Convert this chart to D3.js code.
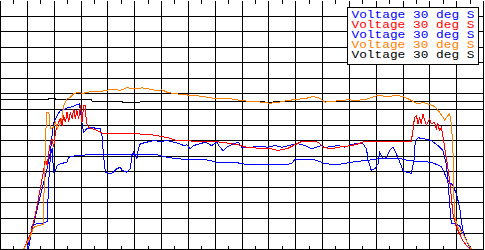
<!DOCTYPE html>
<html>
<head>
<meta charset="utf-8">
<script src="https://cdn.jsdelivr.net/npm/d3@7"></script>
<style>
html, body { margin: 0; padding: 0; background: #ffffff; }
svg { display: block; }
</style>
</head>
<body>
<svg id="chart" width="485" height="250"></svg>
<script>
// Traces as [time, voltage] pairs.
var blue_a = [[9.9,0.5],[12.4,16.7],[13.7,26.4],[14.9,34.7],[16.1,43.3],[17.4,52.1],[18.0,57.2],[18.6,62.5],[19.2,73.3],[19.8,81.6],[21.1,86.1],[22.3,89.3],[23.5,90.0],[24.8,90.9],[26.0,91.3],[27.3,92.2],[28.5,93.0],[29.4,93.6],[29.8,89.3],[30.4,80.8],[31.0,75.4],[32.2,77.6],[34.7,78.6],[35.3,77.6],[37.2,77.6],[37.8,73.3],[38.4,60.4],[39.1,49.7],[40.9,48.6],[42.1,49.7],[43.4,51.9],[44.6,52.9],[45.3,50.8],[47.1,49.7],[48.4,51.9],[49.0,60.4],[49.6,62.5],[50.8,58.3],[51.4,64.7],[52.1,67.9],[54.6,69.0],[57.0,70.0],[59.5,69.4],[62.0,70.0],[64.5,69.0],[66.9,67.9],[68.2,66.8],[69.4,67.3],[70.7,64.7],[71.9,66.8],[74.4,67.9],[76.2,69.0],[78.7,66.8],[80.6,69.0],[81.8,65.7],[83.0,63.6],[84.3,65.7],[85.5,66.8],[86.8,67.9],[88.6,69.0],[89.9,65.7],[92.3,65.4],[96.1,66.4],[99.8,65.7],[102.3,66.8],[104.8,65.7],[108.5,67.3],[110.9,67.9],[113.4,66.8],[115.9,64.7],[117.8,65.7],[119.6,66.8],[120.9,65.6],[123.4,66.2],[125.8,66.8],[128.3,65.7],[130.8,67.5],[133.3,68.3],[135.1,67.9],[136.4,64.7],[137.0,57.2],[138.2,50.8],[139.5,51.9],[140.7,55.1],[141.3,62.5],[142.6,58.3],[143.8,59.3],[145.0,63.6],[146.3,65.7],[147.5,61.5],[148.8,56.1],[150.0,50.8],[151.3,49.7],[153.1,49.0],[154.1,57.2],[154.6,70.0],[155.6,71.8],[158.1,71.1],[160.6,70.0],[163.0,66.8],[164.9,63.6],[166.1,55.1],[166.7,44.3],[167.4,29.4],[168.0,16.5],[169.2,16.7],[171.1,15.4],[172.3,10.1],[174.2,3.7],[175.4,0.5]];

var red_trace = [[8.7,0.5],[11.2,10.3],[13.0,22.5],[14.9,39.8],[16.1,50.8],[16.7,58.3],[17.4,54.0],[18.0,62.5],[18.6,69.0],[19.2,71.1],[19.8,65.7],[20.5,75.4],[21.1,79.7],[21.7,81.8],[22.3,84.0],[23.0,79.7],[23.5,86.1],[24.2,81.8],[24.8,88.2],[25.4,81.8],[26.0,88.2],[26.7,84.0],[27.3,90.4],[27.9,84.0],[28.5,89.3],[29.1,84.0],[29.8,92.5],[30.4,81.8],[31.0,92.5],[31.6,92.5],[32.0,81.8],[32.8,78.6],[34.1,77.6],[36.0,76.5],[37.2,75.4],[38.4,74.4],[49.6,74.4],[55.8,73.9],[59.5,72.8],[63.2,71.5],[65.7,70.0],[73.2,69.6],[80.0,69.4],[83.7,68.6],[88.5,67.3],[92.2,65.4],[97.3,65.1],[101.0,64.7],[103.5,63.6],[107.2,65.1],[109.7,67.3],[112.2,69.4],[115.9,69.6],[118.4,69.0],[120.2,65.7],[123.4,64.7],[125.8,65.7],[128.3,66.2],[130.8,66.8],[133.3,67.9],[135.7,69.4],[139.5,69.6],[153.1,69.6],[153.7,76.5],[154.3,85.0],[155.0,86.1],[155.6,80.8],[156.2,85.0],[156.8,80.8],[157.4,87.2],[158.1,82.9],[158.7,79.7],[159.9,84.0],[160.6,80.8],[161.8,81.8],[162.4,77.6],[163.0,80.8],[163.6,76.5],[164.3,78.6],[164.9,72.6],[165.5,65.7],[166.1,59.3],[166.7,52.9],[167.4,44.3],[168.0,33.6],[168.6,22.9],[169.9,14.3],[171.1,10.1],[172.3,5.8],[173.6,2.6],[174.8,0.5]];

var blue_b = [[10.5,0.6],[11.8,15.4],[13.7,16.7],[15.5,16.7],[17.4,18.0],[17.6,28.3],[18.0,44.3],[18.6,60.4],[19.2,64.9],[19.8,49.7],[20.5,50.8],[21.1,54.0],[22.3,55.1],[24.8,56.1],[25.4,59.1],[27.3,60.1],[29.8,60.4],[32.2,60.9],[49.6,61.1],[58.3,60.9],[62.0,59.3],[65.7,58.3],[70.7,57.8],[75.6,57.8],[78.1,57.2],[80.0,56.1],[83.7,55.7],[87.4,56.1],[89.9,55.1],[92.3,54.6],[96.1,54.4],[104.8,54.4],[108.5,55.1],[109.7,57.8],[113.4,57.6],[117.2,57.6],[119.6,56.1],[120.9,55.1],[125.8,54.6],[130.8,56.1],[135.7,57.2],[138.2,57.6],[140.7,58.3],[149.4,58.3],[151.9,57.2],[155.6,56.6],[160.6,56.1],[164.3,53.3],[166.1,46.5],[167.4,43.1],[168.6,41.1],[169.9,35.8],[171.1,27.2],[171.7,18.6],[172.3,12.2],[173.6,5.8],[174.8,1.5],[175.5,0.3]];

var orange_trace = [[8.7,0.5],[10.5,5.8],[12.4,14.3],[14.2,15.4],[15.9,16.1],[16.4,47.6],[16.7,58.5],[16.9,73.3],[17.1,88.2],[18.0,88.2],[18.6,77.6],[19.8,78.6],[20.5,81.8],[21.1,77.6],[22.3,80.8],[23.0,85.0],[23.5,92.5],[24.8,96.8],[26.0,97.9],[27.3,100.1],[29.1,101.1],[30.6,100.3],[32.2,100.9],[34.7,101.7],[37.2,101.5],[39.5,102.4],[42.0,102.8],[44.6,102.3],[47.1,103.9],[50.8,103.3],[52.6,103.9],[54.6,103.3],[58.3,102.2],[60.2,102.6],[62.0,101.1],[65.1,100.1],[69.4,99.3],[72.4,99.0],[75.5,98.3],[78.2,97.6],[80.6,96.8],[84.3,97.2],[88.0,96.2],[93.0,95.1],[96.7,94.8],[100.4,94.0],[104.1,94.7],[106.6,95.6],[109.0,96.2],[114.1,97.2],[116.4,98.3],[119.0,97.2],[120.9,94.7],[124.6,95.3],[129.4,96.2],[133.1,95.8],[136.9,96.8],[140.6,99.0],[144.3,98.3],[148.0,99.0],[150.6,97.9],[153.1,95.8],[155.5,93.6],[157.4,94.5],[159.9,93.2],[161.8,91.9],[163.6,88.2],[164.9,85.0],[165.5,82.9],[166.7,86.1],[167.4,87.2],[168.0,80.8],[168.6,65.7],[168.8,44.3],[169.2,21.9],[170.4,14.3],[172.3,10.1],[173.6,5.8],[175.4,0.5]];

var black_trace = [[0,96.2],[17.5,96.2],[17.9,96.8],[20.5,96.8],[20.8,96.2],[33.8,96.2],[34.2,95.1],[45.4,95.1],[45.7,94.3],[51.3,94.3],[52.8,95.3],[74.4,95.3],[90.4,95.1],[100.4,94.7],[106.7,95.1],[120.9,95.3],[180,95.3]];

var series_names = ["Voltage 30 deg S", "Voltage 30 deg S", "Voltage 30 deg S", "Voltage 30 deg S", "Voltage 30 deg S"];
var series_colors = ["#0000ff", "#ff0000", "#0000ff", "#ff8000", "#000000"];
var series_data = [blue_a, red_trace, blue_b, orange_trace, black_trace];

var x_ticks = d3.range(0, 181, 10);
var x_minor_ticks = d3.range(5, 180, 10);
var y_ticks = d3.range(0, 160, 10);

var svg = d3.select("#chart");

var x = d3.scaleLinear().domain([0, 180]).range([0.5, 483.5]);
var y = d3.scaleLinear().domain([0, 160]).range([249.5, 0.5]);

// Grid lines drawn as full-length axis ticks.
function grid(g)
{
	g.select(".domain").remove();
	g.selectAll("line").attr("stroke", "#000000").attr("shape-rendering", "crispEdges");
}

svg.append("g")
	.attr("transform", "translate(0,249.5)")
	.call(d3.axisBottom(x).tickValues(x_ticks).tickSize(-249).tickFormat("").offset(0))
	.call(grid);

svg.append("g")
	.attr("transform", "translate(0.5,0)")
	.call(d3.axisLeft(y).tickValues(y_ticks).tickSize(-483).tickFormat("").offset(0))
	.call(grid);

// Short half-division ticks on top and bottom edges.
svg.append("g")
	.call(d3.axisTop(x).tickValues(x_minor_ticks).tickSize(-4).tickFormat("").offset(0))
	.call(grid);

svg.append("g")
	.attr("transform", "translate(0,249.5)")
	.call(d3.axisBottom(x).tickValues(x_minor_ticks).tickSize(-4).tickFormat("").offset(0))
	.call(grid);

var line = d3.line()
	.x(function(d) { return x(d[0]); })
	.y(function(d) { return y(d[1]); });

// Black reference first so the coloured traces sit on top.
var draw_order = [4, 2, 0, 1, 3];
draw_order.forEach(function(i)
{
	svg.append("path")
		.datum(series_data[i])
		.attr("d", line)
		.attr("fill", "none")
		.attr("stroke", series_colors[i])
		.attr("stroke-width", 1)
		.attr("shape-rendering", "crispEdges");
});

// Legend box.
var legend = svg.append("g");
legend.append("rect")
	.attr("x", 347.5)
	.attr("y", 7.5)
	.attr("width", 131)
	.attr("height", 57)
	.attr("fill", "#ffffff")
	.attr("stroke", "#000000")
	.attr("shape-rendering", "crispEdges");

series_names.forEach(function(name, i)
{
	legend.append("text")
		.attr("x", 351.5)
		.attr("y", 18 + i * 10)
		.attr("fill", series_colors[i])
		.attr("font-family", "'Liberation Mono', monospace")
		.attr("font-size", 11)
		.attr("textLength", 123)
		.attr("lengthAdjust", "spacingAndGlyphs")
		.text(name);
});
</script>
</body>
</html>
